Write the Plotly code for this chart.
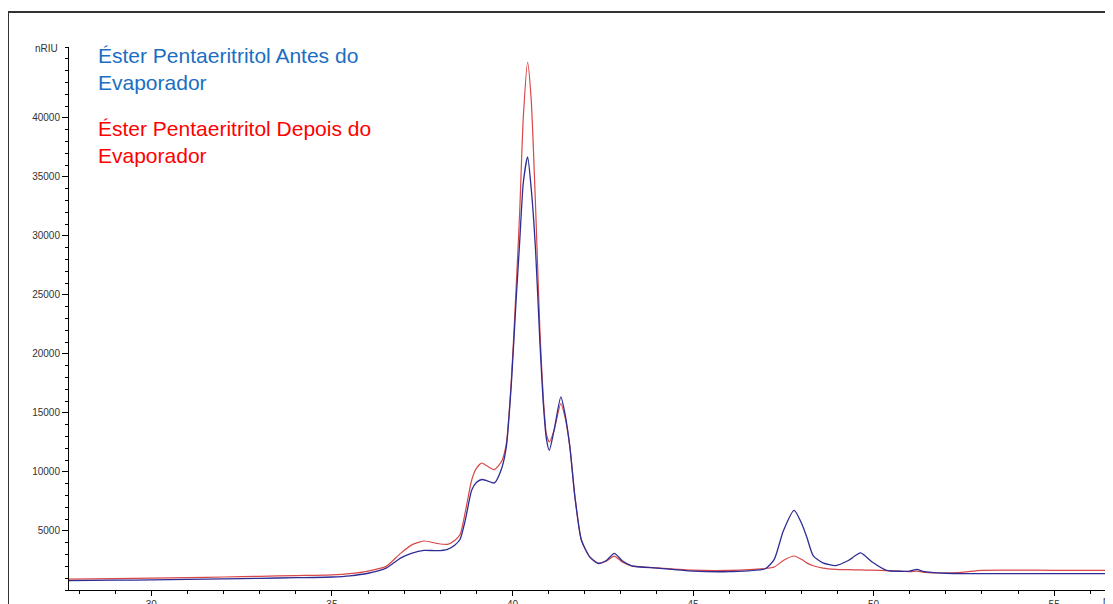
import plotly.graph_objects as go

# Retention time (min)
time_min = [27.7, 29.0, 30.0, 31.0, 32.0, 33.0, 34.0, 35.0, 35.5, 36.0, 36.5, 36.9, 37.2, 37.55,
            37.9, 38.2, 38.4, 38.55, 38.7, 38.87, 39.0, 39.15, 39.3, 39.5, 39.7, 39.83, 39.97,
            40.1, 40.2, 40.3, 40.42, 40.52, 40.64, 40.76, 40.85, 40.94, 41.02, 41.15, 41.34,
            41.45, 41.59, 41.73, 41.91, 42.14, 42.37, 42.6, 42.82, 43.05, 43.3, 44.0, 45.0,
            46.0, 47.0, 47.25, 47.5, 47.8, 48.0, 48.15, 48.33, 48.6, 48.95, 49.3, 49.64, 49.95,
            50.36, 51.0, 51.2, 51.4, 52.0, 52.5, 53.0, 55.0, 56.7]

# Éster Pentaeritritol Antes do Evaporador (nRIU)
antes = [790, 830, 860, 900, 940, 990, 1040, 1100, 1200, 1420, 1850, 2700, 3100, 3360,
         3330, 3450, 3800, 4300, 6000, 8450, 9100, 9360, 9250, 9070, 10300, 12120, 17500,
         24500, 29500, 34500, 36700, 34000, 28790, 21000, 16000, 12800, 11840, 13500, 16360,
         15000, 12120, 7880, 4210, 2800, 2250, 2500, 3100, 2450, 2050, 1850, 1600,
         1560, 1800, 2600, 5000, 6750, 5700, 4490, 2900, 2300, 2070, 2500, 3140, 2400,
         1670, 1600, 1750, 1550, 1420, 1390, 1390, 1390, 1390]

# Éster Pentaeritritol Depois do Evaporador (nRIU)
depois = [920, 960, 1000, 1050, 1100, 1160, 1220, 1280, 1380, 1600, 2000, 3100, 3800, 4150,
          3950, 3870, 4200, 4700, 6700, 9300, 10300, 10760, 10500, 10200, 10900, 12400, 17800,
          25500, 32000, 40000, 44700, 41500, 32500, 22000, 16500, 13200, 12540, 13500, 15800,
          14700, 12120, 7880, 4210, 2800, 2290, 2450, 2870, 2350, 2050, 1870, 1680,
          1660, 1820, 1950, 2500, 2880, 2600, 2300, 2050, 1850, 1750, 1720, 1700, 1680,
          1640, 1560, 1600, 1500, 1440, 1520, 1670, 1670, 1670]

y_ticks = [5000, 10000, 15000, 20000, 25000, 30000, 35000, 40000]
x_ticks = [30, 35, 40, 45, 50, 55]

label_antes = "Éster Pentaeritritol Antes do<br>Evaporador"
label_depois = "Éster Pentaeritritol Depois do<br>Evaporador"

fig = go.Figure()
fig.add_trace(go.Scatter(x=time_min, y=depois, mode="lines", name="Depois",
                         line=dict(color="#d84848", width=1.2, shape="spline", smoothing=0.6)))
fig.add_trace(go.Scatter(x=time_min, y=antes, mode="lines", name="Antes",
                         line=dict(color="#2d2d96", width=1.3, shape="spline", smoothing=0.6)))

tick_font = dict(family="Liberation Sans, Arial, sans-serif", size=10, color="#333333")

fig.update_layout(
    width=1113, height=604,
    margin=dict(l=61, r=8, t=39, b=22),
    paper_bgcolor="white", plot_bgcolor="white",
    showlegend=False,
    xaxis=dict(range=[27.72, 56.63], tickvals=x_ticks, ticks="outside", ticklen=5,
               tickcolor="#000", showline=True, linecolor="#000", linewidth=1,
               showgrid=False, zeroline=False, tickfont=tick_font, automargin=False,
               minor=dict(dtick=1, ticks="outside", ticklen=3, tickcolor="#000", showgrid=False)),
    yaxis=dict(range=[0, 46000], tickvals=y_ticks, ticktext=[str(v) for v in y_ticks],
               ticks="outside", ticklen=6,
               tickcolor="#000", showline=True, linecolor="#000", linewidth=1,
               showgrid=False, zeroline=False, tickfont=tick_font, automargin=False,
               minor=dict(dtick=1000, ticks="outside", ticklen=3, tickcolor="#000", showgrid=False)),
    font=dict(family="Liberation Sans, Arial, sans-serif"),
)

# outer frame (left and top edges visible)
fx = (8 - 69) / 1044
fy = (590 - 12) / 543
fig.add_shape(type="line", xref="paper", yref="paper", x0=fx, x1=fx, y0=-0.2, y1=fy,
              line=dict(color="#333333", width=2))
fig.add_shape(type="line", xref="paper", yref="paper", x0=fx, x1=1.2, y0=fy, y1=fy,
              line=dict(color="#333333", width=2))

fig.add_annotation(text=label_antes, xref="paper", yref="paper", x=(96 - 69) / 1044,
                   y=(590 - 42) / 543, xanchor="left", yanchor="top", showarrow=False, align="left",
                   font=dict(family="Liberation Sans, Arial, sans-serif", size=21, color="#1B6EC2"))
fig.add_annotation(text=label_depois, xref="paper", yref="paper", x=(96 - 69) / 1044,
                   y=(590 - 115) / 543, xanchor="left", yanchor="top", showarrow=False, align="left",
                   font=dict(family="Liberation Sans, Arial, sans-serif", size=21, color="#FF0000"))
fig.add_annotation(text="nRIU", xref="paper", yref="paper", x=(60 - 69) / 1044,
                   y=(590 - 49) / 543, xanchor="right", yanchor="middle", showarrow=False,
                   font=tick_font)
fig.add_annotation(text="min", xref="paper", yref="paper", x=(1101 - 69) / 1044,
                   y=(590 - 600) / 543, xanchor="left", yanchor="middle", showarrow=False,
                   font=tick_font)

fig.write_html("out.html")
